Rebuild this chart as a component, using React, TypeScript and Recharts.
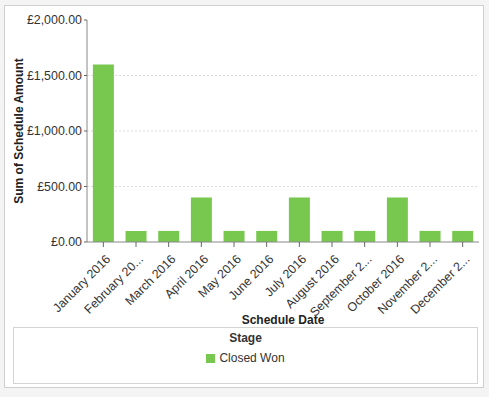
import React from 'react';
import { BarChart, Bar, XAxis, YAxis, CartesianGrid, Label } from 'recharts';

const months = ['January 2016', 'February 2016', 'March 2016', 'April 2016', 'May 2016', 'June 2016', 'July 2016', 'August 2016', 'September 2016', 'October 2016', 'November 2016', 'December 2016'];
const tickLabels = ['January 2016', 'February 20...', 'March 2016', 'April 2016', 'May 2016', 'June 2016', 'July 2016', 'August 2016', 'September 2...', 'October 2016', 'November 2...', 'December 2...'];
const closedWon = [1600, 100, 100, 400, 100, 100, 400, 100, 100, 400, 100, 100];
const yTicks = [0, 500, 1000, 1500, 2000];
const gridValues = [500, 1000, 1500];
const seriesName = 'Closed Won';
const legendTitle = 'Stage';

const data = months.map((m, i) => ({ month: m, label: tickLabels[i], value: closedWon[i] }));

const FONT = '"Liberation Sans", Arial, sans-serif';
const GREEN = '#78c850';

const fmt = (v: number) => '£' + v.toLocaleString('en-GB', { minimumFractionDigits: 2, maximumFractionDigits: 2 });

const XTick = (props: any) => {
  const { x, y, index } = props;
  return (
    <g transform={`translate(${x + 5},${y + 8})`}>
      <text x={0} y={0} dy={4} textAnchor="end" transform="rotate(-45)" fontSize={12.4} fill="#333" fontFamily={FONT}>
        {tickLabels[index]}
      </text>
    </g>
  );
};

export default function App() {
  return (
    <div style={{ position: 'absolute', left: 0, top: 0, width: 489, height: 397, background: '#f4f4f4' }}>
      <div style={{ position: 'absolute', left: 4, top: 5, width: 480, height: 383, border: '1px solid #cfcfcf', boxSizing: 'border-box', background: '#fff' }} />
      <div style={{ position: 'absolute', left: 0, top: 0 }}>
        <BarChart width={489} height={332} data={data} margin={{ top: 20, right: 10, left: 0, bottom: 0 }} barCategoryGap="18%">
          <CartesianGrid vertical={false} horizontalValues={gridValues} stroke="#dcdcdc" strokeDasharray="2 2" />
          <XAxis dataKey="month" interval={0} height={90} tick={<XTick />} tickLine={{ stroke: '#666' }} tickSize={5} axisLine={{ stroke: '#888' }}>
            <Label value="Schedule Date" position="insideBottom" offset={8} style={{ fontWeight: 'bold', fontSize: 12, fill: '#222', fontFamily: FONT }} />
          </XAxis>
          <YAxis width={87} domain={[0, 2000]} ticks={yTicks} tickFormatter={fmt} tick={{ fontSize: 12.4, fill: '#333', fontFamily: FONT }} tickSize={3} tickLine={{ stroke: '#666' }} axisLine={{ stroke: '#888' }}>
            <Label value="Sum of Schedule Amount" angle={-90} position="insideLeft" offset={19} style={{ fontWeight: 'bold', fontSize: 12, fill: '#222', fontFamily: FONT, textAnchor: 'middle' }} />
          </YAxis>
          <Bar dataKey="value" name={seriesName} fill={GREEN} isAnimationActive={false} />
        </BarChart>
      </div>
      <div style={{ position: 'absolute', left: 13, top: 327, width: 465, height: 57, border: '1px solid #d4d4d4', boxSizing: 'border-box', background: '#fff', fontFamily: FONT, color: '#333', textAlign: 'center' }}>
        <div style={{ fontWeight: 'bold', fontSize: 12, marginTop: 3 }}>{legendTitle}</div>
        <div style={{ fontSize: 12, marginTop: 6, display: 'flex', justifyContent: 'center', alignItems: 'center' }}>
          <span style={{ display: 'inline-block', width: 9, height: 9, background: GREEN, marginRight: 4 }} />
          <span>{seriesName}</span>
        </div>
      </div>
    </div>
  );
}
